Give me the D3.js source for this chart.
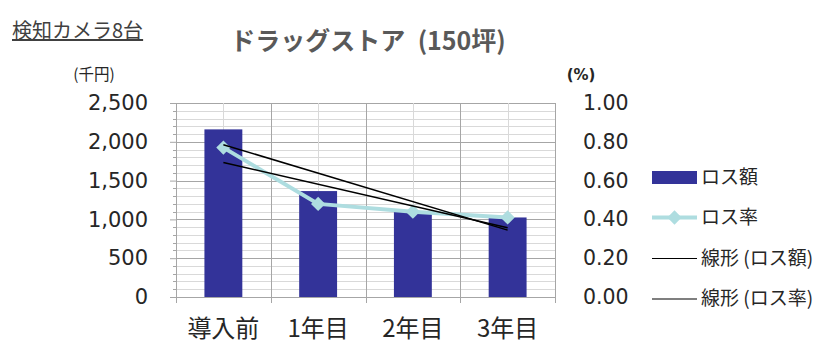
<!DOCTYPE html>
<html>
<head>
<meta charset="utf-8">
<script src="https://cdn.jsdelivr.net/npm/d3@7"></script>
<style>
    body { margin: 0; background: #fff; }
    text { font-family: "DejaVu Sans", "Noto Sans CJK JP", sans-serif; }
    .jp { font-family: "Noto Sans CJK JP", sans-serif; }
</style>
</head>
<body>
<div id="chart"></div>
<script>
// data
const categories = ["導入前", "1年目", "2年目", "3年目"];
const lossAmount = [2160, 1365, 1100, 1025];     // 千円 (bars)
const lossRate = [0.77, 0.48, 0.44, 0.41];        // % (line)
const leftTicks = [0, 500, 1000, 1500, 2000, 2500];
const rightTicks = [0, 0.2, 0.4, 0.6, 0.8, 1.0];
const legendLabels = ["ロス額", "ロス率", "線形 (ロス額)", "線形 (ロス率)"];

const width = 840, height = 357;
const margin = {top: 103, right: 285, bottom: 60, left: 176};
const innerW = width - margin.left - margin.right;
const innerH = height - margin.top - margin.bottom;

const barColor = "#333399";
const lineColor = "#AEDDE0";

const svg = d3.select("#chart").append("svg")
    .attr("width", width)
    .attr("height", height);

const g = svg.append("g")
    .attr("transform", `translate(${margin.left}, ${margin.top})`);

// scales
const x = d3.scaleBand().domain(categories).range([0, innerW]).padding(0);
const yL = d3.scaleLinear().domain([0, 2500]).range([innerH, 0]);
const yR = d3.scaleLinear().domain([0, 1]).range([innerH, 0]);

// grid - minor horizontal
g.append("g").selectAll("line")
    .data(d3.range(0, 2501, 100))
    .join("line")
    .attr("x1", 0).attr("x2", innerW)
    .attr("y1", d => Math.round(yL(d)) + 0.5).attr("y2", d => Math.round(yL(d)) + 0.5)
    .attr("stroke", d => d % 500 === 0 ? "#a6a6a6" : "#d9d9d9")
    .attr("stroke-width", 1);

// grid - vertical (category centers light, boundaries darker)
g.append("g").selectAll("line")
    .data(categories)
    .join("line")
    .attr("x1", d => Math.round(x(d) + x.bandwidth() / 2) + 0.5)
    .attr("x2", d => Math.round(x(d) + x.bandwidth() / 2) + 0.5)
    .attr("y1", 0).attr("y2", innerH)
    .attr("stroke", "#d9d9d9");

g.append("g").selectAll("line")
    .data(categories.slice(1).concat(["end"]))
    .join("line")
    .attr("x1", (d, i) => Math.round(x.step() * (i + 1)) + 0.5)
    .attr("x2", (d, i) => Math.round(x.step() * (i + 1)) + 0.5)
    .attr("y1", 0).attr("y2", innerH)
    .attr("stroke", "#a6a6a6");

// left axis
const leftAxis = g.append("g")
    .call(d3.axisLeft(yL).tickValues(leftTicks).tickSize(6).tickPadding(22)
        .tickFormat(d3.format(",")));
leftAxis.select(".domain").attr("stroke", "#a6a6a6");
leftAxis.selectAll(".tick line").attr("stroke", "#a6a6a6");
leftAxis.selectAll("text")
    .attr("font-size", 21).attr("fill", "#262626")
    .style("font-family", "DejaVu Sans");

// minor left ticks
g.append("g").selectAll("line")
    .data(d3.range(0, 2501, 100).filter(d => d % 500 !== 0))
    .join("line")
    .attr("x1", -3).attr("x2", 0)
    .attr("y1", d => Math.round(yL(d)) + 0.5).attr("y2", d => Math.round(yL(d)) + 0.5)
    .attr("stroke", "#a6a6a6");

// bottom axis
const bottom = g.append("g").attr("transform", `translate(0, ${innerH})`);
bottom.append("line")
    .attr("x1", 0).attr("x2", innerW).attr("y1", 0.5).attr("y2", 0.5)
    .attr("stroke", "#a6a6a6");
bottom.selectAll(".btick")
    .data(d3.range(categories.length + 1))
    .join("line")
    .attr("class", "btick")
    .attr("x1", d => Math.round(x.step() * d) + 0.5).attr("x2", d => Math.round(x.step() * d) + 0.5)
    .attr("y1", 0).attr("y2", 6)
    .attr("stroke", "#a6a6a6");
bottom.selectAll(".blabel")
    .data(categories)
    .join("text")
    .attr("class", "blabel jp")
    .attr("x", d => x(d) + x.bandwidth() / 2)
    .attr("y", 40)
    .attr("text-anchor", "middle")
    .attr("font-size", 24)
    .attr("fill", "#262626")
    .text(d => d);

// right axis labels
const rightAxis = g.append("g")
    .attr("transform", `translate(${innerW}, 0)`)
    .call(d3.axisRight(yR).tickValues(rightTicks).tickSize(0).tickPadding(28)
        .tickFormat(d3.format(".2f")));
rightAxis.select(".domain").remove();
rightAxis.selectAll("text")
    .attr("font-size", 20.5).attr("fill", "#262626")
    .style("font-family", "DejaVu Sans");

// bars
const barW = x.bandwidth() * 0.4;
g.append("g").selectAll("rect")
    .data(categories)
    .join("rect")
    .attr("x", d => x(d) + (x.bandwidth() - barW) / 2)
    .attr("width", barW)
    .attr("y", (d, i) => yL(lossAmount[i]))
    .attr("height", (d, i) => innerH - yL(lossAmount[i]))
    .attr("fill", barColor);

// rate line
const cx = d => x(d) + x.bandwidth() / 2;
g.append("path")
    .datum(categories)
    .attr("fill", "none")
    .attr("stroke", lineColor)
    .attr("stroke-width", 4)
    .attr("stroke-linejoin", "round")
    .attr("d", d3.line().x(d => cx(d)).y((d, i) => yR(lossRate[i])));

const diamond = d3.symbol().type(d3.symbolDiamond2).size(130);
g.append("g").selectAll("path")
    .data(categories)
    .join("path")
    .attr("transform", (d, i) => `translate(${cx(d)}, ${yR(lossRate[i])})`)
    .attr("d", diamond)
    .attr("fill", lineColor);

// linear trend lines (least squares, like Excel)
function linFit(vals) {
    const n = vals.length;
    const xs = d3.range(1, n + 1);
    const mx = d3.mean(xs), my = d3.mean(vals);
    const slope = d3.sum(xs, (v, i) => (v - mx) * (vals[i] - my)) / d3.sum(xs, v => (v - mx) ** 2);
    return xs.map(v => my + slope * (v - mx));
}
const trendAmount = linFit(lossAmount);
const trendRate = linFit(lossRate);

g.append("line")
    .attr("x1", cx(categories[0])).attr("y1", yL(trendAmount[0]))
    .attr("x2", cx(categories[3])).attr("y2", yL(trendAmount[3]))
    .attr("stroke", "#000").attr("stroke-width", 1.5);
g.append("line")
    .attr("x1", cx(categories[0])).attr("y1", yR(trendRate[0]))
    .attr("x2", cx(categories[3])).attr("y2", yR(trendRate[3]))
    .attr("stroke", "#000").attr("stroke-width", 1.5);

// titles
svg.append("text")
    .attr("class", "jp")
    .attr("x", 12).attr("y", 38)
    .attr("font-size", 20).attr("fill", "#404040")
    .style("text-decoration", "underline")
    .text("検知カメラ8台");

svg.append("text")
    .attr("class", "jp")
    .attr("x", 368).attr("y", 50)
    .attr("text-anchor", "middle")
    .attr("font-size", 25).attr("font-weight", "bold").attr("fill", "#595959")
    .text("ドラッグストア\u2002(150坪)");

svg.append("text")
    .attr("class", "jp")
    .attr("x", 94).attr("y", 80)
    .attr("text-anchor", "middle")
    .attr("font-size", 15.5).attr("fill", "#262626")
    .text("(千円)");

svg.append("text")
    .attr("x", 581).attr("y", 80)
    .attr("text-anchor", "middle")
    .attr("font-size", 15).attr("font-weight", "bold").attr("fill", "#262626")
    .text("(%)");

// legend
const legend = svg.append("g").attr("transform", "translate(652, 177)");
const rowH = 40.5;
legendLabels.forEach((lab, i) => {
    const row = legend.append("g").attr("transform", `translate(0, ${i * rowH})`);
    if (i === 0) {
        row.append("rect").attr("x", 0).attr("y", -6).attr("width", 45).attr("height", 13)
            .attr("fill", barColor);
    } else if (i === 1) {
        row.append("line").attr("x1", 0).attr("x2", 45).attr("y1", 0).attr("y2", 0)
            .attr("stroke", lineColor).attr("stroke-width", 4);
        row.append("path").attr("transform", "translate(22.5, 0)")
            .attr("d", diamond).attr("fill", lineColor);
    } else {
        row.append("line").attr("x1", 0).attr("x2", 45).attr("y1", 0.5).attr("y2", 0.5)
            .attr("stroke", "#000").attr("stroke-width", 1.2);
    }
    row.append("text")
        .attr("class", "jp")
        .attr("x", 49).attr("y", 0)
        .attr("dy", "0.35em")
        .attr("font-size", 19).attr("fill", "#262626")
        .text(lab);
});
</script>
</body>
</html>
